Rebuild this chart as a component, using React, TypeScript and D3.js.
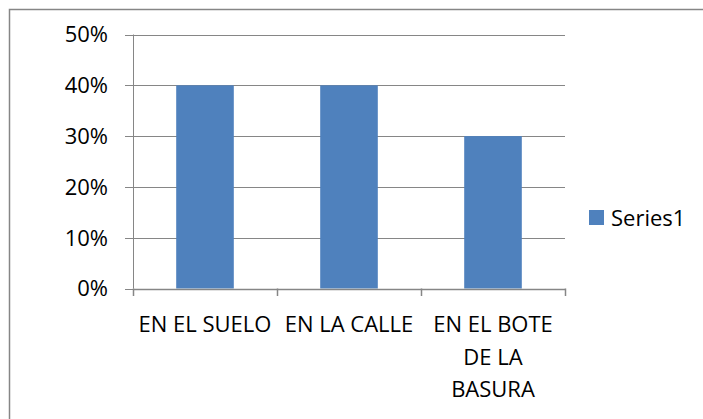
import React from "react";
import * as d3 from "d3";

const categories: string[][] = [["EN EL SUELO"], ["EN LA CALLE"], ["EN EL BOTE", "DE LA", "BASURA"]];
const values: number[] = [0.4, 0.4, 0.3];
const yTicks: number[] = [0, 0.1, 0.2, 0.3, 0.4, 0.5];
const seriesName = "Series1";

const W = 703;
const H = 419;
const left = 133;
const right = 565;
const top = 34.5;
const bottom = 288.5;
const gray = "#868686";
const barColor = "#4F81BD";
const font = "'Open Sans', sans-serif";
const fs = 22;

export default function App() {
  const x = d3
    .scaleBand<number>()
    .domain(categories.map((_, i) => i))
    .range([left, right])
    .paddingInner(0)
    .paddingOuter(0);
  const y = d3.scaleLinear().domain([0, 0.5]).range([bottom, top]);
  const step = x.step();
  const barW = step * 0.4;
  const fmt = d3.format(".0%");

  return (
    <svg
      width={W}
      height={H}
      style={{ position: "absolute", left: 0, top: 0, background: "#fff" }}
    >
      <rect x={9.5} y={9.5} width={W + 10} height={H + 10} fill="#fff" stroke={gray} strokeWidth={1.5} />
      {yTicks.map((t) => (
        <g key={t}>
          <line x1={125} x2={right} y1={Math.round(y(t)) + 0.5} y2={Math.round(y(t)) + 0.5} stroke={gray} strokeWidth={1} />
          <text
            x={108}
            y={y(t)}
            dy="0.36em"
            textAnchor="end"
            fontFamily={font}
            fontSize={fs}
            fill="#000"
          >
            {fmt(t)}
          </text>
        </g>
      ))}
      <line x1={left + 0.5} x2={left + 0.5} y1={top} y2={bottom} stroke={gray} strokeWidth={1} />
      {values.map((v, i) => (
        <rect
          key={i}
          x={(x(i) as number) + (step - barW) / 2}
          y={y(v)}
          width={barW}
          height={y(0) - y(v)}
          fill={barColor}
        />
      ))}
      <line x1={left} x2={right + 0.5} y1={Math.round(bottom) + 0.5} y2={Math.round(bottom) + 0.5} stroke={gray} strokeWidth={1.5} />
      {[0, 1, 2, 3].map((i) => {
        const xx = left + i * step;
        return <line key={i} x1={xx + 0.5} x2={xx + 0.5} y1={bottom} y2={296} stroke={gray} strokeWidth={1.5} />;
      })}
      {categories.map((lines, i) => (
        <text
          key={i}
          x={(x(i) as number) + step / 2}
          y={332}
          textAnchor="middle"
          fontFamily={font}
          fontSize={fs}
          fill="#000"
        >
          {lines.map((l, j) => (
            <tspan key={j} x={(x(i) as number) + step / 2} y={332 + j * 32.5}>
              {l}
            </tspan>
          ))}
        </text>
      ))}
      <rect x={589} y={210} width={15} height={15} fill={barColor} />
      <text x={611} y={226} fontFamily={font} fontSize={fs} fill="#000">
        {seriesName}
      </text>
    </svg>
  );
}
